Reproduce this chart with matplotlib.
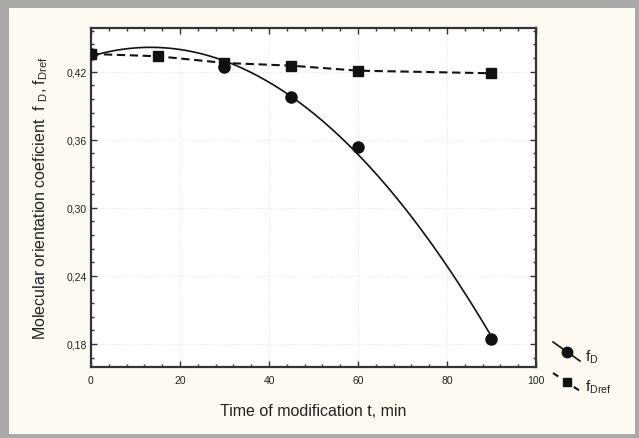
import numpy as np
import matplotlib
matplotlib.use("Agg")
import matplotlib.pyplot as plt
from matplotlib.patches import Rectangle
from matplotlib.lines import Line2D
from matplotlib.ticker import MultipleLocator, FuncFormatter

plt.rcParams['font.family'] = ['Liberation Sans', 'DejaVu Sans']
plt.rcParams['mathtext.default'] = 'regular'

# data
t_fd = [0, 30, 45, 60, 90]
fd = [0.4356, 0.4239, 0.3974, 0.3534, 0.1845]
t_ref = [0, 15, 30, 45, 60, 90]
fdref = [0.4356, 0.4336, 0.4277, 0.4253, 0.4209, 0.4186]
xticks = [0, 20, 40, 60, 80, 100]
yticks = [0.18, 0.24, 0.30, 0.36, 0.42]

W, H = 639, 439
fig = plt.figure(figsize=(W / 100, H / 100), dpi=100, facecolor='#a9a9a9')
fig.patches.append(Rectangle((9 / W, 4 / H), (W - 13) / W, (H - 13) / H,
                             transform=fig.transFigure, facecolor='#fdfaf2',
                             edgecolor='none', zorder=-10))

ax = fig.add_axes([91 / W, 1 - 368 / H, (536 - 91) / W, (368 - 29) / H])
ax.set_zorder(5)
ax.set_facecolor('white')

# fitted trend for fD (quadratic)
coef = np.polyfit(t_fd, fd, 2)
tt = np.linspace(0, 90, 200)
ax.plot(tt, np.polyval(coef, tt), color='#111111', lw=1.2, zorder=3)
ax.plot(t_fd, fd, 'o', color='#111111', ms=8, zorder=4)

ax.plot(t_ref, fdref, color='#111111', lw=1.5, ls=(0, (4, 2.2)), zorder=3)
ax.plot(t_ref, fdref, 's', color='#111111', ms=7.5, zorder=4)

ax.set_xlim(0, 100)
ax.set_ylim(0.1597, 0.4585)
ax.set_xticks(xticks)
ax.set_yticks(yticks)
ax.xaxis.set_minor_locator(MultipleLocator(4))
ax.yaxis.set_minor_locator(MultipleLocator(0.012))
ax.xaxis.set_major_formatter(FuncFormatter(lambda v, p: f"{v:.0f}"))
ax.yaxis.set_major_formatter(FuncFormatter(lambda v, p: f"{v:.2f}".replace('.', ',')))
ax.tick_params(which='both', direction='in', top=True, right=True, color='#333333')
ax.tick_params(which='major', length=4, width=1, labelsize=7.5, labelcolor='#222222')
ax.tick_params(which='minor', length=2.5, width=1)
ax.tick_params(axis='x', pad=6)
ax.tick_params(axis='y', pad=3)
for s in ax.spines.values():
    s.set_linewidth(1.6)
    s.set_color('#333333')
ax.grid(True, which='major', color='#e4e4e4', ls=':', lw=0.8)

ax.set_xlabel('Time of modification t, min', fontsize=11.5, color='#222222', labelpad=13)
ax.set_ylabel('Molecular orientation coeficient  f $_{D}$, f$_{Dref}$', fontsize=11.5,
              color='#222222', labelpad=12)

# legend (manual, outside right)
def fx(x):
    return x / W

def fy(y):
    return 1 - y / H

fig.add_artist(Line2D([fx(553), fx(580)], [fy(343), fy(362)], color='#111111', lw=1.2,
                      transform=fig.transFigure))
fig.add_artist(Line2D([fx(566.5)], [fy(352.5)], marker='o', ms=7.5, color='#111111',
                      transform=fig.transFigure))
fig.add_artist(Line2D([fx(553), fx(580)], [fy(374), fy(392)], color='#111111', lw=1.5,
                      ls=(0, (3, 9)), transform=fig.transFigure))
fig.add_artist(Line2D([fx(566.5)], [fy(383)], marker='s', ms=6, color='#111111',
                      transform=fig.transFigure))
fig.text(fx(585), fy(357), 'f$_{D}$', fontsize=11, color='#222222', va='center')
fig.text(fx(585), fy(387), 'f$_{Dref}$', fontsize=11, color='#222222', va='center')

fig.savefig('out.png', dpi=100, facecolor=fig.get_facecolor())
